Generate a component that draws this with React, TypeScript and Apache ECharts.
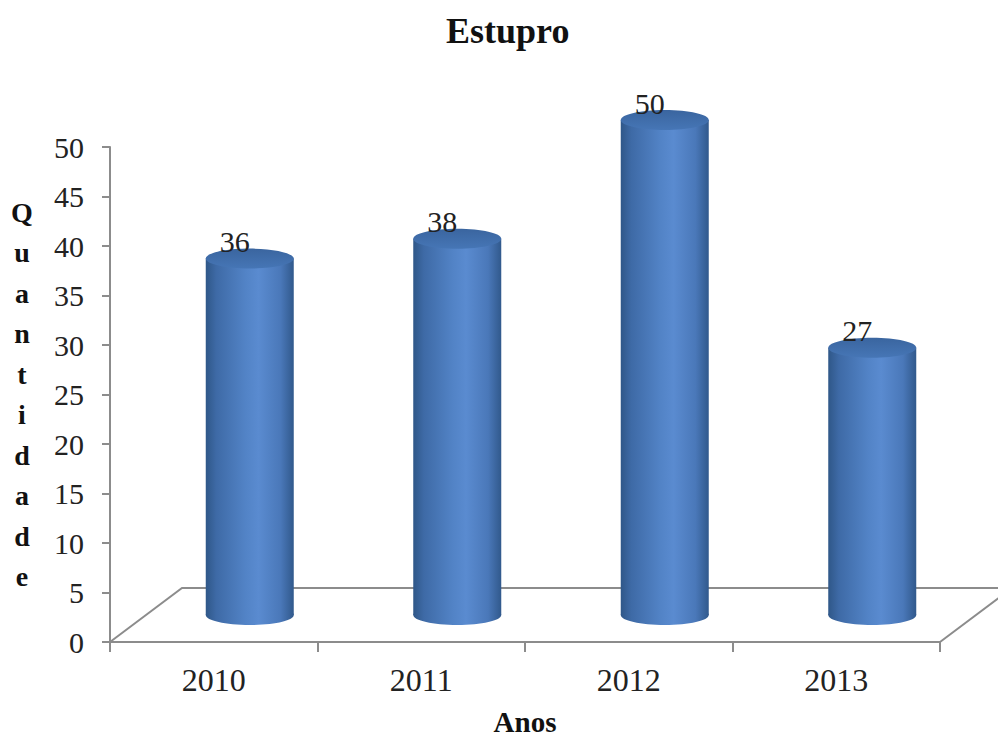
import React, { useEffect, useRef } from "react";
import * as echarts from "echarts";

// Data
const years = ["2010", "2011", "2012", "2013"];
const counts = [36, 38, 50, 27];
const yMin = 0;
const yMax = 50;
const yStep = 5;
const yAxisTitle = "Quantidade";
const xAxisTitle = "Anos";
const chartTitle = "Estupro";

// 3D look: bars sit half-way into the floor's depth
const HALF_DEPTH_X = 36;
const HALF_DEPTH_Y = 27;
const BAR_RX = 44;
const BAR_RY = 10;

const SERIF = '"Liberation Serif", "Times New Roman", serif';
const AXIS_GREY = "#8c8c8c";

const bodyGradient = () =>
  new echarts.graphic.LinearGradient(0, 0, 1, 0, [
    { offset: 0, color: "#2f5788" },
    { offset: 0.12, color: "#3e6aa6" },
    { offset: 0.45, color: "#5283c6" },
    { offset: 0.6, color: "#5a8bd0" },
    { offset: 0.85, color: "#4a78b9" },
    { offset: 1, color: "#31598c" },
  ]);

const topGradient = () =>
  new echarts.graphic.LinearGradient(0, 0, 0, 1, [
    { offset: 0, color: "#3a659f" },
    { offset: 1, color: "#4676b6" },
  ]);

export default function App() {
  const ref = useRef<HTMLDivElement>(null);

  useEffect(() => {
    if (!ref.current) return;
    const chart = echarts.init(ref.current, null, { renderer: "svg" });

    const option: any = {
      animation: false,
      backgroundColor: "#ffffff",
      title: {
        text: chartTitle,
        left: 441,
        top: 8,
        textStyle: {
          fontFamily: SERIF,
          fontWeight: "bold",
          fontSize: 36,
          color: "#111",
        },
      },
      grid: {
        left: 110,
        right: 58,
        top: 147,
        bottom: 95,
        containLabel: false,
        outerBoundsMode: "none",
      },
      xAxis: {
        type: "category",
        data: years,
        name: xAxisTitle,
        nameLocation: "middle",
        nameGap: 66,
        nameTextStyle: {
          fontFamily: SERIF,
          fontWeight: "bold",
          fontSize: 29,
          lineHeight: 28,
          color: "#111",
        },
        axisLine: { show: true, lineStyle: { color: AXIS_GREY, width: 2 } },
        axisTick: { show: true, length: 10, lineStyle: { color: AXIS_GREY, width: 2 } },
        axisLabel: {
          fontFamily: SERIF,
          fontSize: 32,
          color: "#222",
          margin: 22,
        },
      },
      yAxis: {
        type: "value",
        min: yMin,
        max: yMax,
        interval: yStep,
        name: yAxisTitle.split("").join("\n"),
        nameLocation: "middle",
        nameRotate: 0,
        nameGap: 88,
        nameTextStyle: {
          fontFamily: SERIF,
          fontWeight: "bold",
          fontSize: 28,
          lineHeight: 40.5,
          align: "center",
          color: "#111",
        },
        axisLine: { show: true, lineStyle: { color: AXIS_GREY, width: 2 } },
        axisTick: { show: true, length: 8, lineStyle: { color: AXIS_GREY, width: 2 } },
        splitLine: { show: false },
        axisLabel: {
          fontFamily: SERIF,
          fontSize: 30,
          color: "#222",
          margin: 26,
        },
      },
      series: [
        {
          // floor of the 3D plot area
          type: "custom",
          clip: false,
          z: 1,
          data: [[0, 0]],
          renderItem: (params: any) => {
            const cs = params.coordSys;
            const x0 = cs.x;
            const yb = cs.y + cs.height;
            const x1 = cs.x + cs.width;
            const dx = HALF_DEPTH_X * 2;
            const dy = HALF_DEPTH_Y * 2;
            return {
              type: "polyline",
              shape: {
                points: [
                  [x0, yb],
                  [x0 + dx, yb - dy],
                  [x1 + dx, yb - dy],
                  [x1, yb],
                ],
              },
              style: { stroke: AXIS_GREY, lineWidth: 2, fill: "none" },
            };
          },
        },
        {
          // cylinders
          type: "custom",
          clip: false,
          z: 3,
          data: counts.map((v, i) => [i, v]),
          encode: { x: 0, y: 1 },
          renderItem: (params: any, api: any) => {
            const i = api.value(0);
            const v = api.value(1);
            const top = api.coord([i, v]);
            const base = api.coord([i, 0]);
            const cx = top[0] + HALF_DEPTH_X;
            const topY = top[1] - HALF_DEPTH_Y;
            const baseY = base[1] - HALF_DEPTH_Y;
            return {
              type: "group",
              children: [
                {
                  type: "ellipse",
                  shape: { cx, cy: baseY, rx: BAR_RX, ry: BAR_RY },
                  style: { fill: bodyGradient() },
                },
                {
                  type: "rect",
                  shape: { x: cx - BAR_RX, y: topY, width: BAR_RX * 2, height: baseY - topY },
                  style: { fill: bodyGradient() },
                },
                {
                  type: "ellipse",
                  shape: { cx, cy: topY, rx: BAR_RX, ry: BAR_RY },
                  style: { fill: topGradient() },
                },
                {
                  type: "text",
                  style: {
                    text: String(v),
                    x: cx - 15,
                    y: topY - 17,
                    align: "center",
                    verticalAlign: "middle",
                    fontFamily: SERIF,
                    fontSize: 30,
                    fill: "#222",
                  },
                },
              ],
            };
          },
        },
      ],
    };

    chart.setOption(option);
    return () => chart.dispose();
  }, []);

  return (
    <div
      ref={ref}
      style={{ position: "fixed", left: 0, top: 0, width: 998, height: 737 }}
    />
  );
}
